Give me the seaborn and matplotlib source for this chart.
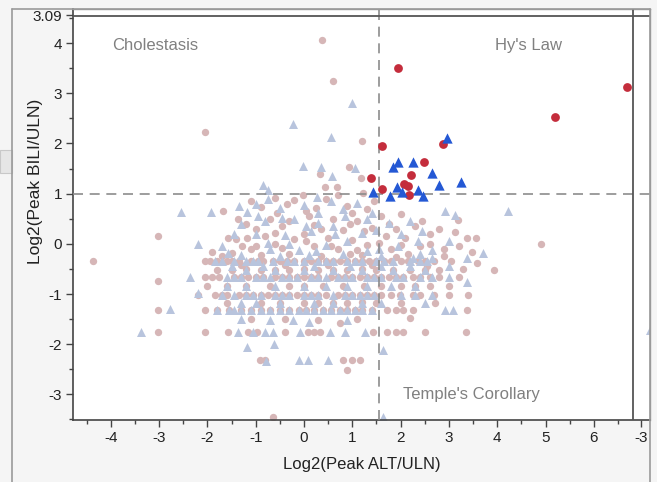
import numpy as np
import pandas as pd
import seaborn as sns
import matplotlib.pyplot as plt
from matplotlib.patches import Rectangle
from matplotlib.lines import Line2D

# background subjects: pink circles (log2 peak ALT, log2 peak BILI)
bg_circles = [
    (0.37, 4.06), (0.6, 3.25), (-2.05, 2.23), (1.2, 2.05), (0.93, 1.53), (1.18, 1.31),
    (0.68, 1.14), (0.43, 1.14), (0.33, 1.39), (1.22, 1.02), (-0.6, 0.92), (-0.02, 0.98), (0.7, 0.98),
    (-1.68, 0.66), (-1.37, 0.5), (-3.02, 0.16), (-1.57, 0.12), (-1.18, 0.12), (-1.28, -0.04), (-4.37, -0.34),
    (-0.9, 0.74), (-0.35, 0.8), (0.25, 0.72), (0.9, 0.76), (1.3, 0.7), (-0.7, 0.5), (0.1, 0.55), (0.6, 0.5),
    (1.1, 0.45), (1.6, 0.55), (2.0, 0.6), (-1.0, 0.3), (-0.45, 0.35), (0.35, 0.3), (0.8, 0.28), (1.4, 0.32),
    (1.9, 0.3), (2.3, 0.35), (-1.4, 0.1), (-0.8, 0.15), (-0.2, 0.1), (0.5, 0.12), (1.0, 0.08), (1.7, 0.15),
    (2.1, 0.12), (2.6, 0.2), (3.13, 0.24), (3.19, 0.48), (3.37, 0.12), (3.56, 0.12), (4.91, 0.0),
    (-1.1, 0.85), (-0.2, 0.88), (0.45, 0.9), (1.0, 0.62), (1.45, 0.85), (-0.55, 0.62), (0.05, 0.65),
    (-1.2, 0.4), (-0.3, 0.45), (0.2, 0.38), (0.95, 0.4), (1.25, 0.25), (1.75, 0.4), (2.45, 0.45),
    (-0.6, 0.22), (0.0, 0.2), (2.8, 0.3),
    (-1.9, -0.16), (-1.0, -0.04), (-0.6, 0.0), (0.2, -0.05), (0.7, -0.1), (1.3, -0.02), (1.8, -0.1),
    (2.4, -0.05), (2.9, -0.1), (3.48, -0.16), (-1.5, -0.18), (-0.3, -0.2), (0.95, -0.2), (2.15, -0.2),
    (-1.1, -0.1), (-0.45, -0.08), (0.05, 0.05), (0.55, -0.05), (1.1, -0.12), (1.55, 0.02), (2.0, -0.02),
    (2.6, 0.0), (3.2, -0.05),
    (-1.7, -0.25), (-0.9, -0.22), (0.35, -0.24), (1.2, -0.22), (1.9, -0.26), (2.9, -0.25),
    (-2.05, -0.34), (-1.8, -0.34), (-1.59, -0.34), (-1.35, -0.34), (-1.1, -0.34), (-0.85, -0.34),
    (-0.5, -0.34), (-0.2, -0.34), (0.15, -0.34), (0.45, -0.34), (0.75, -0.34), (1.05, -0.34), (1.35, -0.34),
    (1.65, -0.34), (2.0, -0.34), (2.35, -0.34), (2.7, -0.34), (3.05, -0.34), (3.58, -0.38),
    (-1.95, -0.34), (-1.5, -0.34), (-0.95, -0.34), (-0.65, -0.34), (-0.35, -0.34), (0.0, -0.34),
    (0.3, -0.34), (0.6, -0.34), (0.9, -0.34), (1.2, -0.34), (1.5, -0.34), (1.8, -0.34), (2.15, -0.34),
    (2.5, -0.34),
    (-1.3, -0.42), (-0.4, -0.43), (0.5, -0.42), (1.4, -0.43), (2.55, -0.44),
    (-1.5, -0.52), (-0.9, -0.52), (-0.3, -0.52), (0.3, -0.52), (0.9, -0.52), (1.5, -0.52), (2.2, -0.52),
    (2.8, -0.52), (3.93, -0.52),
    (-1.8, -0.52), (-1.2, -0.5), (-0.6, -0.52), (0.0, -0.5), (0.6, -0.52), (1.2, -0.5), (1.85, -0.52),
    (2.5, -0.52), (3.3, -0.5),
    (-3.02, -0.74), (-2.05, -0.66), (-1.75, -0.66), (-1.45, -0.66), (-1.15, -0.66), (-0.85, -0.66),
    (-0.6, -0.66), (-0.3, -0.66), (0.0, -0.66), (0.3, -0.66), (0.55, -0.66), (0.85, -0.66), (1.15, -0.66),
    (1.45, -0.66), (1.75, -0.66), (2.05, -0.66), (2.4, -0.66), (2.8, -0.66), (3.2, -0.66),
    (-1.9, -0.66), (-1.3, -0.66), (-1.0, -0.66), (-0.45, -0.66), (-0.15, -0.66), (0.15, -0.66),
    (0.7, -0.66), (1.0, -0.66), (1.3, -0.66), (1.6, -0.66), (1.9, -0.66), (2.25, -0.66), (2.6, -0.66),
    (-1.6, -0.84), (-0.7, -0.84), (0.4, -0.84), (1.25, -0.84), (2.3, -0.84), (3.0, -0.84),
    (-1.2, -0.84), (-0.3, -0.84), (0.0, -0.84), (0.8, -0.84), (1.6, -0.84), (2.0, -0.84), (2.6, -0.84),
    (-2.0, -0.84),
    (-2.19, -1.02), (-1.85, -1.02), (-1.6, -1.02), (-1.35, -1.02), (-1.05, -1.02), (-0.75, -1.02),
    (-0.45, -1.02), (-0.15, -1.02), (0.15, -1.02), (0.45, -1.02), (0.7, -1.02), (1.0, -1.02), (1.3, -1.02),
    (1.6, -1.02), (1.99, -1.02), (2.26, -1.02), (2.4, -1.02), (3.4, -1.02), (3.0, -1.02),
    (-1.7, -1.02), (-1.2, -1.02), (-0.9, -1.02), (-0.6, -1.02), (-0.3, -1.02), (0.0, -1.02), (0.3, -1.02),
    (0.85, -1.02), (1.15, -1.02), (1.45, -1.02), (1.8, -1.02), (2.7, -1.02),
    (-0.5, -1.18), (0.6, -1.18), (2.71, -1.18), (1.2, -1.16),
    (-1.6, -1.18), (-0.9, -1.18), (0.0, -1.18), (0.3, -1.18), (0.9, -1.18), (1.5, -1.18), (2.0, -1.18),
    (-3.02, -1.31), (-2.05, -1.31), (-1.8, -1.31), (-1.3, -1.31), (-0.9, -1.31), (-0.5, -1.31),
    (-0.1, -1.31), (0.2, -1.31), (0.55, -1.31), (0.9, -1.31), (1.2, -1.31), (1.72, -1.31), (1.91, -1.31),
    (2.26, -1.31), (3.37, -1.31),
    (-1.55, -1.31), (-1.1, -1.31), (-0.7, -1.31), (-0.3, -1.31), (0.05, -1.31), (0.4, -1.31),
    (0.75, -1.31), (1.05, -1.31), (1.4, -1.31), (2.05, -1.31),
    (2.19, -1.47), (0.75, -1.57), (-1.1, -1.5), (-0.4, -1.5), (0.3, -1.52), (1.1, -1.5),
    (-3.02, -1.75), (-2.05, -1.75), (-1.57, -1.75), (-1.16, -1.75), (-0.97, -1.75), (-0.39, -1.75),
    (0.08, -1.75), (0.2, -1.75), (0.33, -1.75), (1.43, -1.75), (1.72, -1.75), (1.9, -1.75), (2.05, -1.75),
    (2.5, -1.75), (3.35, -1.75),
    (-0.91, -2.31), (-0.81, -2.31), (0.81, -2.31), (1.0, -2.31), (1.16, -2.31), (0.89, -2.51),
    (-0.64, -3.45),
]

# background subjects: light blue triangles
bg_triangles = [
    (0.99, 2.81), (-0.23, 2.39), (0.56, 2.13), (1.06, 1.51), (0.58, 1.35), (-0.02, 1.55), (0.35, 1.53),
    (-0.85, 1.18), (-0.75, 1.08), (0.27, 0.94), (-2.55, 0.64), (-1.93, 0.64), (-1.18, 0.64),
    (-2.19, 0.0), (-1.57, -0.18),
    (-1.0, 0.8), (-0.5, 0.72), (0.0, 0.78), (0.55, 0.85), (1.1, 0.82), (-1.3, 0.4), (-0.8, 0.45),
    (-0.2, 0.5), (0.3, 0.42), (0.85, 0.55), (1.3, 0.5), (1.75, 0.42), (2.92, 0.66), (3.13, 0.58),
    (4.22, 0.66), (-1.0, 0.2), (-0.4, 0.18), (0.15, 0.25), (0.65, 0.2), (1.2, 0.22), (2.0, 0.2),
    (2.45, 0.25), (-1.7, -0.05), (-0.7, -0.1), (-0.1, -0.12), (0.45, -0.02), (1.55, -0.1), (2.65, -0.12),
    (3.7, -0.18),
    (-1.35, 0.75), (-0.75, 0.9), (0.3, 0.62), (0.8, 0.7), (1.4, 0.62), (-0.95, 0.55), (-0.45, 0.52),
    (0.05, 0.35), (0.6, 0.35), (1.5, 0.28), (2.2, 0.45), (-1.45, 0.2), (-0.75, 0.02), (-0.3, 0.0),
    (0.25, -0.15), (0.9, 0.05), (1.3, -0.15), (1.95, -0.05), (2.35, 0.05), (3.0, 0.05),
    (-1.3, -0.22), (-0.5, -0.24), (0.1, -0.22), (0.8, -0.2), (1.6, -0.24), (2.4, -0.2),
    (-1.7, -0.34), (-1.45, -0.34), (-1.2, -0.34), (-0.95, -0.34), (-0.65, -0.34), (-0.35, -0.34),
    (0.0, -0.34), (0.3, -0.34), (0.6, -0.34), (0.9, -0.34), (1.2, -0.34), (1.5, -0.34), (1.85, -0.34),
    (2.2, -0.34), (2.55, -0.34), (2.26, -0.28), (2.65, -0.28), (3.37, -0.28),
    (-1.85, -0.34), (-1.05, -0.34), (-0.2, -0.34), (0.45, -0.34), (1.05, -0.34), (1.65, -0.34), (2.4, -0.34),
    (-1.5, -0.45), (-0.85, -0.45), (0.2, -0.45), (0.95, -0.45), (1.6, -0.45), (2.2, -0.45), (3.0, -0.45),
    (-1.2, -0.52), (-0.6, -0.52), (0.0, -0.52), (0.6, -0.52), (1.2, -0.52), (1.85, -0.52), (2.5, -0.52),
    (-2.36, -0.66), (-1.6, -0.66), (-1.3, -0.66), (-1.0, -0.66), (-0.7, -0.66), (-0.45, -0.66),
    (-0.15, -0.66), (0.15, -0.66), (0.45, -0.66), (0.7, -0.66), (1.0, -0.66), (1.3, -0.66), (1.6, -0.66),
    (1.9, -0.66), (2.65, -0.66), (3.0, -0.66), (3.37, -0.76),
    (-1.45, -0.66), (-0.85, -0.66), (-0.3, -0.66), (0.3, -0.66), (0.85, -0.66), (1.45, -0.66),
    (2.05, -0.66), (2.4, -0.66),
    (-1.2, -0.84), (0.0, -0.84), (0.9, -0.84), (1.8, -0.84),
    (-1.6, -0.84), (-0.6, -0.84), (0.45, -0.84), (1.3, -0.84), (2.3, -0.84),
    (-2.19, -0.98), (-1.7, -1.02), (-1.2, -1.02), (-0.9, -1.02), (-0.6, -1.02), (-0.3, -1.02),
    (0.0, -1.02), (0.3, -1.02), (0.85, -1.02), (1.15, -1.02), (1.45, -1.02), (2.65, -1.02),
    (-1.45, -1.02), (-1.05, -1.02), (-0.45, -1.02), (0.15, -1.02), (0.6, -1.02), (1.0, -1.02),
    (1.3, -1.02), (2.0, -1.02), (2.3, -1.02),
    (-1.0, -1.18), (0.2, -1.18), (1.6, -1.18),
    (-1.3, -1.18), (-0.5, -1.18), (0.6, -1.18), (1.2, -1.18), (2.5, -1.18),
    (-2.77, -1.3), (-1.55, -1.31), (-1.45, -1.31), (-1.1, -1.31), (-0.7, -1.31), (-0.3, -1.31),
    (0.05, -1.31), (0.4, -1.31), (0.75, -1.31), (1.05, -1.31), (1.4, -1.31), (2.92, -1.31), (3.09, -1.31),
    (-1.8, -1.31), (-1.3, -1.31), (-0.9, -1.31), (-0.5, -1.31), (-0.1, -1.31), (0.2, -1.31),
    (0.55, -1.31), (0.9, -1.31), (1.2, -1.31),
    (-0.7, -1.51), (-0.23, -1.51), (-1.3, -1.5), (0.1, -1.55), (0.9, -1.52),
    (-3.37, -1.75), (-1.37, -1.75), (-1.05, -1.75), (-0.81, -1.75), (-0.64, -1.75), (-0.08, -1.75),
    (0.54, -1.75), (0.85, -1.75), (1.26, -1.75),
    (-1.18, -2.05), (-0.62, -1.99), (1.64, -2.11),
    (-0.79, -2.33), (-0.1, -2.31), (0.08, -2.31), (0.5, -2.31),
    (1.64, -3.45), (7.16, -1.71),
]

# potential Hy's law cases
hy_circles = [
    (1.95, 3.51), (6.69, 3.13), (5.2, 2.53), (1.61, 1.95), (2.88, 1.99), (2.48, 1.63), (2.22, 1.37),
    (1.39, 1.31), (1.61, 1.10), (2.07, 1.20), (2.15, 1.16), (2.17, 0.98),
]
hy_triangles = [
    (2.96, 2.11), (1.95, 1.63), (1.84, 1.53), (2.26, 1.63), (2.65, 1.41), (1.43, 1.04), (1.93, 1.14),
    (1.78, 0.96), (2.03, 1.04), (2.36, 1.08), (2.46, 0.96), (2.80, 1.18), (3.25, 1.24),
]

quadrant_labels = ["Cholestasis", "Hy's Law", "Temple's Corollary"]
x_ticks = [-4, -3, -2, -1, 0, 1, 2, 3, 4, 5, 6, 6.98]
x_tick_labels = ["-4", "-3", "-2", "-1", "0", "1", "2", "3", "4", "5", "6", "-3"]
y_ticks = [-3, -2, -1, 0, 1, 2, 3, 4, 4.56]
y_tick_labels = ["-3", "-2", "-1", "0", "1", "2", "3", "4", "3.09"]
alt_cut = 1.55
bili_cut = 1.0


def to_df(pts):
    return pd.DataFrame(pts, columns=["alt", "bili"])


sns.set_style("white")
plt.rcParams['font.family'] = ['Liberation Sans', 'DejaVu Sans']

fig = plt.figure(figsize=(6.57, 4.82), dpi=100, facecolor="#f5f5f5")
ax = fig.add_axes([73 / 657, 1 - 420 / 482, (650 - 73) / 657, (420 - 9) / 482])
ax.set_facecolor("white")

sns.scatterplot(data=to_df(bg_circles), x="alt", y="bili", ax=ax, marker="o", s=28,
                color="#d6b6b7", linewidth=0, zorder=2)
sns.scatterplot(data=to_df(bg_triangles), x="alt", y="bili", ax=ax, marker="^", s=42,
                color="#b8c4dd", linewidth=0, zorder=2)
sns.scatterplot(data=to_df(hy_circles), x="alt", y="bili", ax=ax, marker="o", s=40,
                color="#c42d3c", linewidth=0, zorder=4)
sns.scatterplot(data=to_df(hy_triangles), x="alt", y="bili", ax=ax, marker="^", s=55,
                color="#2458d4", linewidth=0, zorder=4)

ax.axhline(bili_cut, color="#8c8c8c", lw=1.2, ls=(0, (6, 4)), zorder=3)
ax.axvline(alt_cut, color="#8c8c8c", lw=1.2, ls=(0, (6, 4)), zorder=3)
ax.axhline(4.54, color="#555555", lw=1.3, zorder=5)
ax.axvline(6.8, color="#555555", lw=1.3, zorder=5)

ax.set_xlim(-4.78, 7.16)
ax.set_ylim(-3.51, 4.68)
ax.set_xticks(x_ticks)
ax.set_xticklabels(x_tick_labels)
ax.set_yticks(y_ticks)
ax.set_yticklabels(y_tick_labels)
ax.set_xticks(np.arange(-4.5, 7.0, 1.0), minor=True)
ax.set_yticks(np.arange(-3.5, 4.6, 1.0), minor=True)
ax.tick_params(which="major", direction="out", length=5, width=1, color="#444444",
               labelsize=11, labelcolor="#222222", bottom=True, left=True, pad=3)
ax.tick_params(which="minor", direction="out", length=3, width=1, color="#444444",
               bottom=True, left=True)

for side in ["left", "bottom"]:
    ax.spines[side].set_color("#444444")
    ax.spines[side].set_linewidth(1.2)
for side in ["top", "right"]:
    ax.spines[side].set_color("#9a9a9a")
    ax.spines[side].set_linewidth(1.0)

ax.set_xlabel("Log2(Peak ALT/ULN)", fontsize=12, color="#222222")
ax.set_ylabel("Log2(Peak BILI/ULN)", fontsize=12.5, color="#222222")
ax.xaxis.set_label_coords(0.5, -0.09)
ax.yaxis.set_label_coords(-0.052, 0.58)

ax.text(-3.08, 3.96, quadrant_labels[0], fontsize=12, color="#808080", ha="center", va="center")
ax.text(4.64, 3.96, quadrant_labels[1], fontsize=12, color="#808080", ha="center", va="center")
ax.text(3.46, -3.01, quadrant_labels[2], fontsize=12, color="#808080", ha="center", va="center")

# window frame around the report
fig.add_artist(Line2D([12 / 657, 12 / 657], [0, 1 - 9 / 482], color="#9a9a9a", lw=1.2))
fig.add_artist(Line2D([12 / 657, 650 / 657], [1 - 9 / 482, 1 - 9 / 482], color="#9a9a9a", lw=1.2))
fig.add_artist(Line2D([650 / 657, 650 / 657], [0, 1 - 9 / 482], color="#9a9a9a", lw=1.2))
fig.add_artist(Rectangle((0, 1 - 173 / 482), 12 / 657, 23 / 482, facecolor="#e6e6e6",
                         edgecolor="#c8c8c8", lw=0.8, transform=fig.transFigure))

fig.savefig("out.png", dpi=100, facecolor=fig.get_facecolor())
